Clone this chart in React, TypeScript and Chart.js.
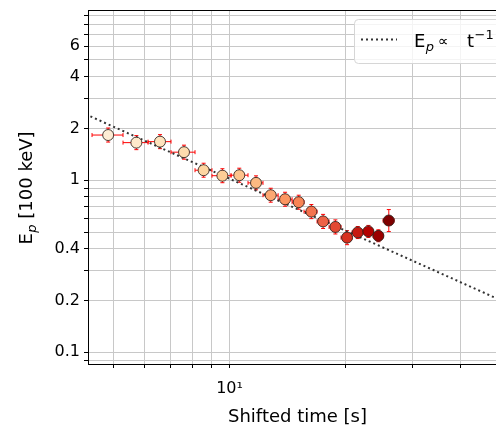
import React, { useEffect, useRef } from 'react';
import { Chart, registerables } from 'chart.js';

Chart.register(...registerables);

// ---- data ----
const times = [4.83, 5.72, 6.59, 7.61, 8.56, 9.58, 10.6, 11.72, 12.8, 13.95, 15.14, 16.33, 17.52, 18.86, 20.23, 21.57, 22.99, 24.41, 25.98];
const peaks = [1.83, 1.653, 1.675, 1.455, 1.143, 1.062, 1.069, 0.965, 0.818, 0.775, 0.745, 0.657, 0.576, 0.535, 0.464, 0.497, 0.504, 0.475, 0.583];
const timeLow = [4.385, 5.28, 6.135, 7.04, 8.13, 9.0, 10.09, 11.17, 12.22, 13.38, 14.55, 15.63, 16.9, 18.16, 19.51, 20.84, 22.27, 23.64, 25.1];
const timeHigh = [5.28, 6.135, 7.04, 8.13, 9.0, 10.09, 11.17, 12.22, 13.38, 14.55, 15.63, 16.9, 18.16, 19.51, 20.84, 22.27, 23.64, 25.1, 26.82];
const peakLow = [1.666, 1.505, 1.525, 1.325, 1.041, 0.967, 0.973, 0.879, 0.745, 0.706, 0.678, 0.598, 0.524, 0.487, 0.422, 0.458, 0.465, 0.439, 0.503];
const peakHigh = [2.01, 1.816, 1.84, 1.598, 1.255, 1.166, 1.174, 1.06, 0.898, 0.851, 0.818, 0.722, 0.633, 0.588, 0.509, 0.538, 0.546, 0.515, 0.675];

const fitTimes = [4, 60];
const fitPeaks = [2.55, 0.17];

const xTickValues = [5, 6, 7, 8, 9, 10, 20, 30, 40, 50];
const xTickLabels = ['', '', '', '', '', '10¹', '', '', '', ''];
const yTickValues = [0.09, 0.1, 0.2, 0.3, 0.4, 0.5, 0.6, 0.7, 0.8, 0.9, 1, 2, 3, 4, 5, 6, 7, 8, 9];
const yTickLabels = ['', '0.1', '0.2', '', '0.4', '', '', '', '', '', '1', '2', '', '4', '', '6', '', '', ''];

const X_MIN = 4.28;
const X_MAX = 51.06;
const Y_MIN = 0.0855;
const Y_MAX = 9.75;

// OrRd colormap stops (style only)
const ORRD = ['#fff7ec', '#fee8c8', '#fdd49e', '#fdbb84', '#fc8d59', '#ef6548', '#d7301f', '#b30000', '#7f0000'];
function hexToRgb(h: string) {
  return [parseInt(h.slice(1, 3), 16), parseInt(h.slice(3, 5), 16), parseInt(h.slice(5, 7), 16)];
}
function orrd(t: number) {
  const p = Math.max(0, Math.min(1, t)) * (ORRD.length - 1);
  const i = Math.min(ORRD.length - 2, Math.floor(p));
  const f = p - i;
  const a = hexToRgb(ORRD[i]);
  const b = hexToRgb(ORRD[i + 1]);
  const c = a.map((v, k) => Math.round(v + (b[k] - v) * f));
  return `rgb(${c[0]},${c[1]},${c[2]})`;
}
const tFirst = times[0];
const tLast = times[times.length - 1];
const pointColors = times.map((t) => orrd(0.08 + (0.92 * (t - tFirst)) / (tLast - tFirst)));

const FONT = '"DejaVu Sans", "Liberation Sans", sans-serif';

const decorations = {
  id: 'decorations',
  beforeDatasetsDraw(chart: any) {
    const { ctx, chartArea, scales } = chart;
    const xs = scales.x;
    const ys = scales.y;
    ctx.save();
    ctx.beginPath();
    ctx.rect(chartArea.left, chartArea.top, chartArea.right - chartArea.left, chartArea.bottom - chartArea.top);
    ctx.clip();
    ctx.strokeStyle = '#ff0000';
    ctx.lineWidth = 1;
    const cap = 2;
    for (let i = 0; i < times.length; i++) {
      const xc = xs.getPixelForValue(times[i]);
      const yc = ys.getPixelForValue(peaks[i]);
      const x0 = xs.getPixelForValue(timeLow[i]);
      const x1 = xs.getPixelForValue(timeHigh[i]);
      const y0 = ys.getPixelForValue(peakLow[i]);
      const y1 = ys.getPixelForValue(peakHigh[i]);
      ctx.beginPath();
      ctx.moveTo(x0, yc);
      ctx.lineTo(x1, yc);
      ctx.moveTo(x0, yc - cap);
      ctx.lineTo(x0, yc + cap);
      ctx.moveTo(x1, yc - cap);
      ctx.lineTo(x1, yc + cap);
      ctx.moveTo(xc, y0);
      ctx.lineTo(xc, y1);
      ctx.moveTo(xc - cap, y0);
      ctx.lineTo(xc + cap, y0);
      ctx.moveTo(xc - cap, y1);
      ctx.lineTo(xc + cap, y1);
      ctx.stroke();
    }
    ctx.restore();
  },
  afterDraw(chart: any) {
    const { ctx, chartArea } = chart;
    ctx.save();
    // top spine
    ctx.strokeStyle = '#000';
    ctx.lineWidth = 1;
    ctx.beginPath();
    ctx.moveTo(chartArea.left, chartArea.top + 0.5);
    ctx.lineTo(chartArea.right, chartArea.top + 0.5);
    ctx.stroke();

    // legend box
    const bx = 354.5, by = 19.5, bw = 170, bh = 44, r = 4;
    ctx.beginPath();
    ctx.moveTo(bx + r, by);
    ctx.lineTo(bx + bw - r, by);
    ctx.arcTo(bx + bw, by, bx + bw, by + r, r);
    ctx.lineTo(bx + bw, by + bh - r);
    ctx.arcTo(bx + bw, by + bh, bx + bw - r, by + bh, r);
    ctx.lineTo(bx + r, by + bh);
    ctx.arcTo(bx, by + bh, bx, by + bh - r, r);
    ctx.lineTo(bx, by + r);
    ctx.arcTo(bx, by, bx + r, by, r);
    ctx.closePath();
    ctx.fillStyle = 'rgba(255,255,255,0.8)';
    ctx.fill();
    ctx.strokeStyle = '#d6d6d6';
    ctx.stroke();

    // legend sample line
    ctx.setLineDash([2, 3]);
    ctx.strokeStyle = '#333';
    ctx.lineWidth = 2;
    ctx.beginPath();
    ctx.moveTo(361, 39.5);
    ctx.lineTo(397, 39.5);
    ctx.stroke();
    ctx.setLineDash([]);

    // legend text: E_p ∝ t^-1
    ctx.fillStyle = '#000';
    ctx.textBaseline = 'alphabetic';
    ctx.textAlign = 'left';
    ctx.font = `18px ${FONT}`;
    ctx.fillText('E', 414, 47);
    const wE = ctx.measureText('E').width;
    ctx.font = `italic 13px ${FONT}`;
    ctx.fillText('p', 414 + wE + 0.5, 51);
    ctx.font = `15px ${FONT}`;
    ctx.fillText('∝', 438, 46);
    ctx.font = `18px ${FONT}`;
    ctx.fillText('t', 467, 47);
    const wt = ctx.measureText('t').width;
    ctx.font = `13px ${FONT}`;
    ctx.fillText('−1', 467 + wt + 0.5, 39);

    // x title
    ctx.font = `18px ${FONT}`;
    ctx.textAlign = 'center';
    ctx.fillText('Shifted time [s]', 297.5, 422);

    // y title (rotated), E_p [100 keV]
    ctx.textAlign = 'left';
    ctx.font = `18px ${FONT}`;
    const wE2 = ctx.measureText('E').width;
    const rest = ' [100 keV]';
    const wRest = ctx.measureText(rest).width;
    ctx.font = `italic 13px ${FONT}`;
    const wp = ctx.measureText('p').width;
    const total = wE2 + 0.5 + wp + wRest;
    const centerY = (chartArea.top + chartArea.bottom) / 2 + 1;
    ctx.translate(31.5, centerY + total / 2);
    ctx.rotate(-Math.PI / 2);
    ctx.font = `18px ${FONT}`;
    ctx.fillText('E', 0, 0);
    ctx.font = `italic 13px ${FONT}`;
    ctx.fillText('p', wE2 + 0.5, 4);
    ctx.font = `18px ${FONT}`;
    ctx.fillText(rest, wE2 + 0.5 + wp, 0);
    ctx.restore();
  },
};

export default function App() {
  const canvasRef = useRef<HTMLCanvasElement | null>(null);

  useEffect(() => {
    if (!canvasRef.current) return;
    Chart.defaults.font.family = FONT;
    const chart = new Chart(canvasRef.current, {
      type: 'scatter',
      data: {
        datasets: [
          {
            label: 'Ep',
            data: times.map((t, i) => ({ x: t, y: peaks[i] })),
            pointRadius: 5.5,
            pointHoverRadius: 5.5,
            pointBackgroundColor: pointColors,
            pointBorderColor: 'rgba(45,30,25,0.85)',
            pointBorderWidth: 1,
            showLine: false,
          },
          {
            label: 'Ep ∝ t^-1',
            data: fitTimes.map((t, i) => ({ x: t, y: fitPeaks[i] })),
            showLine: true,
            borderColor: '#333',
            borderWidth: 2,
            borderDash: [2, 3],
            pointRadius: 0,
            fill: false,
          },
        ],
      },
      options: {
        animation: false,
        responsive: true,
        maintainAspectRatio: false,
        layout: { padding: { top: 10, left: 0, right: 0, bottom: 0 } },
        plugins: {
          legend: { display: false },
          tooltip: { enabled: false },
        },
        scales: {
          x: {
            type: 'logarithmic',
            min: X_MIN,
            max: X_MAX,
            afterBuildTicks: (s: any) => {
              s.ticks = xTickValues.map((v) => ({ value: v }));
            },
            afterFit: (s: any) => {
              s.height = 62;
              s.paddingLeft = 0;
              s.paddingRight = 0;
            },
            ticks: {
              autoSkip: false,
              maxRotation: 0,
              minRotation: 0,
              padding: 11,
              color: '#000',
              font: { family: FONT, size: 16 },
              callback: (_v: any, i: number) => xTickLabels[i],
            },
            grid: { color: '#c8c8c8', lineWidth: 1, tickColor: '#000', tickLength: 4, drawTicks: true },
            border: { color: '#000', width: 1 },
          },
          y: {
            type: 'logarithmic',
            min: Y_MIN,
            max: Y_MAX,
            afterBuildTicks: (s: any) => {
              s.ticks = yTickValues.map((v) => ({ value: v }));
            },
            afterFit: (s: any) => {
              s.width = 88;
              s.paddingTop = 0;
              s.paddingBottom = 0;
            },
            ticks: {
              autoSkip: false,
              padding: 4,
              color: '#000',
              font: { family: FONT, size: 16 },
              callback: (_v: any, i: number) => yTickLabels[i],
            },
            grid: { color: '#c8c8c8', lineWidth: 1, tickColor: '#000', tickLength: 4, drawTicks: true },
            border: { color: '#000', width: 1 },
          },
        },
      },
      plugins: [decorations],
    } as any);
    return () => chart.destroy();
  }, []);

  return (
    <div
      style={{
        position: 'fixed',
        left: 0,
        top: 0,
        width: 496,
        height: 426,
        overflow: 'hidden',
        background: '#fff',
      }}
    >
      <div style={{ position: 'relative', width: 508, height: 426 }}>
        <canvas ref={canvasRef} />
      </div>
    </div>
  );
}
